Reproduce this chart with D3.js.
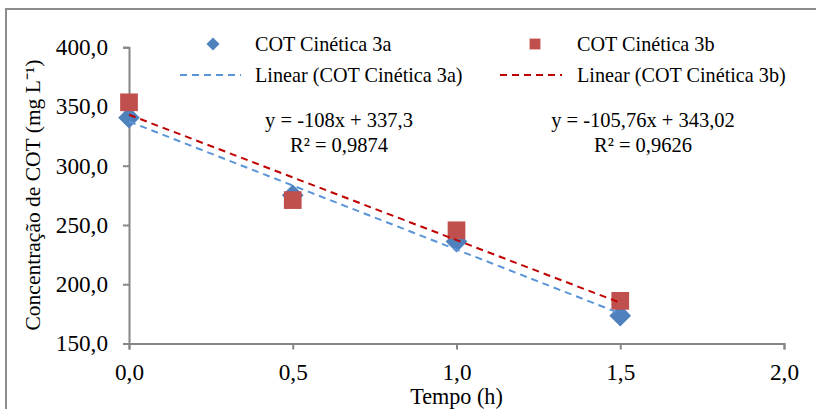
<!DOCTYPE html>
<html>
<head>
<meta charset="utf-8">
<script src="https://cdn.jsdelivr.net/npm/d3@7"></script>
<style>
  html, body { margin: 0; padding: 0; background: #fff; }
  svg { display: block; }
</style>
</head>
<body>
<svg id="chart" width="816" height="409"></svg>
<script>
// Sampling times (h)
const tempo = [0, 0.5, 1.0, 1.5];
// COT concentration (mg/L), kinetics 3a and 3b
const cot3a = [340.5, 275, 236, 173.5];
const cot3b = [353.5, 271, 245.5, 186];
// Linear fits: slope and intercept
const fit3a = { slope: -108, intercept: 337.3 };
const fit3b = { slope: -105.76, intercept: 343.02 };
const fitLabels3a = ["y = -108x + 337,3", "R² = 0,9874"];
const fitLabels3b = ["y = -105,76x + 343,02", "R² = 0,9626"];
// Axis ticks
const xTicks = [0, 0.5, 1.0, 1.5, 2.0];
const yTicks = [150, 200, 250, 300, 350, 400];
const legendLabels = ["COT Cinética 3a", "COT Cinética 3b",
                      "Linear (COT Cinética 3a)", "Linear (COT Cinética 3b)"];

const FONT = "Liberation Serif";
const colA = "#4F81BD", colB = "#C0504D";
const lineA = "#5B95D9", lineB = "#C00000";
const axisCol = "#868686";

const svg = d3.select("#chart");

// outer chart frame
svg.append("rect")
  .attr("x", 6).attr("y", 9).attr("width", 840).attr("height", 430)
  .attr("fill", "#fff").attr("stroke", "#8c8c8c").attr("stroke-width", 2);

const x = d3.scaleLinear().domain([0, 2]).range([129, 784]);
const y = d3.scaleLinear().domain([150, 400]).range([343.5, 47.2]);
const fmt = d => d.toFixed(1).replace(".", ",");

// y axis
const gy = svg.append("g").attr("transform", `translate(${x(0)},0)`)
  .call(d3.axisLeft(y).tickValues(yTicks).tickFormat(fmt).tickSizeOuter(0).tickSize(6).tickPadding(15));
// x axis
const gx = svg.append("g").attr("transform", `translate(0,${y(150)})`)
  .call(d3.axisBottom(x).tickValues(xTicks).tickFormat(fmt).tickSizeOuter(0).tickSize(6).tickPadding(14));

[gx, gy].forEach(g => {
  g.attr("font-family", FONT).attr("font-size", 23.2);
  g.select(".domain").attr("stroke", axisCol).attr("stroke-width", 2);
  g.selectAll(".tick line").attr("stroke", axisCol).attr("stroke-width", 2);
  g.selectAll(".tick text").attr("fill", "#000")
    .attr("font-family", FONT).attr("font-size", 23.2);
});

function label(parent, tx, ty, str, size, anchor) {
  return parent.append("text")
    .attr("x", tx).attr("y", ty)
    .attr("font-family", FONT).attr("font-size", size)
    .attr("text-anchor", anchor || "start").attr("fill", "#000")
    .text(str);
}

// axis titles
label(svg, x(1.0), 404, "Tempo (h)", 22.2, "middle");
label(svg, 0, 0, "Concentração de COT  (mg L⁻¹)", 21.5, "middle")
  .attr("transform", "translate(40,195) rotate(-90)");

// markers
const diamond = d3.symbol().type(d3.symbolDiamond2);
const square = d3.symbol().type(d3.symbolSquare2);

svg.append("g").selectAll("path").data(tempo.map((t, i) => [t, cot3a[i]]))
  .join("path")
  .attr("d", diamond.size(300)())
  .attr("transform", d => `translate(${x(d[0])},${y(d[1])})`)
  .attr("fill", colA);

svg.append("g").selectAll("path").data(tempo.map((t, i) => [t, cot3b[i]]))
  .join("path")
  .attr("d", square.size(400)())
  .attr("transform", d => `translate(${x(d[0])},${y(d[1])})`)
  .attr("fill", colB);

// trend lines over the sampled range
const tMin = d3.min(tempo), tMax = d3.max(tempo);
[[fit3a, lineA], [fit3b, lineB]].forEach(([f, c]) => {
  svg.append("line")
    .attr("x1", x(tMin)).attr("y1", y(f.intercept + f.slope * tMin))
    .attr("x2", x(tMax)).attr("y2", y(f.intercept + f.slope * tMax))
    .attr("stroke", c).attr("stroke-width", 2).attr("stroke-dasharray", "7,5");
});

// fit equations
[[fitLabels3a, 339], [fitLabels3b, 643]].forEach(([lab, cx]) => {
  label(svg, cx, 127, lab[0], 20.5, "middle");
  label(svg, cx, 152, lab[1], 20.5, "middle");
});

// legend
const lg = svg.append("g");
lg.append("path").attr("d", diamond.size(110)()).attr("transform", "translate(213,44)").attr("fill", colA);
lg.append("path").attr("d", square.size(150)()).attr("transform", "translate(535,44)").attr("fill", colB);
lg.append("line").attr("x1", 180).attr("x2", 241).attr("y1", 75).attr("y2", 75)
  .attr("stroke", lineA).attr("stroke-width", 2).attr("stroke-dasharray", "7,5");
lg.append("line").attr("x1", 500).attr("x2", 562).attr("y1", 75).attr("y2", 75)
  .attr("stroke", lineB).attr("stroke-width", 2).attr("stroke-dasharray", "7,5");
[[legendLabels[0], 255, 51], [legendLabels[1], 577, 51],
 [legendLabels[2], 255, 82], [legendLabels[3], 577, 82]].forEach(([t, lx, ly]) => {
  label(lg, lx, ly, t, 20.2);
});
</script>
</body>
</html>
